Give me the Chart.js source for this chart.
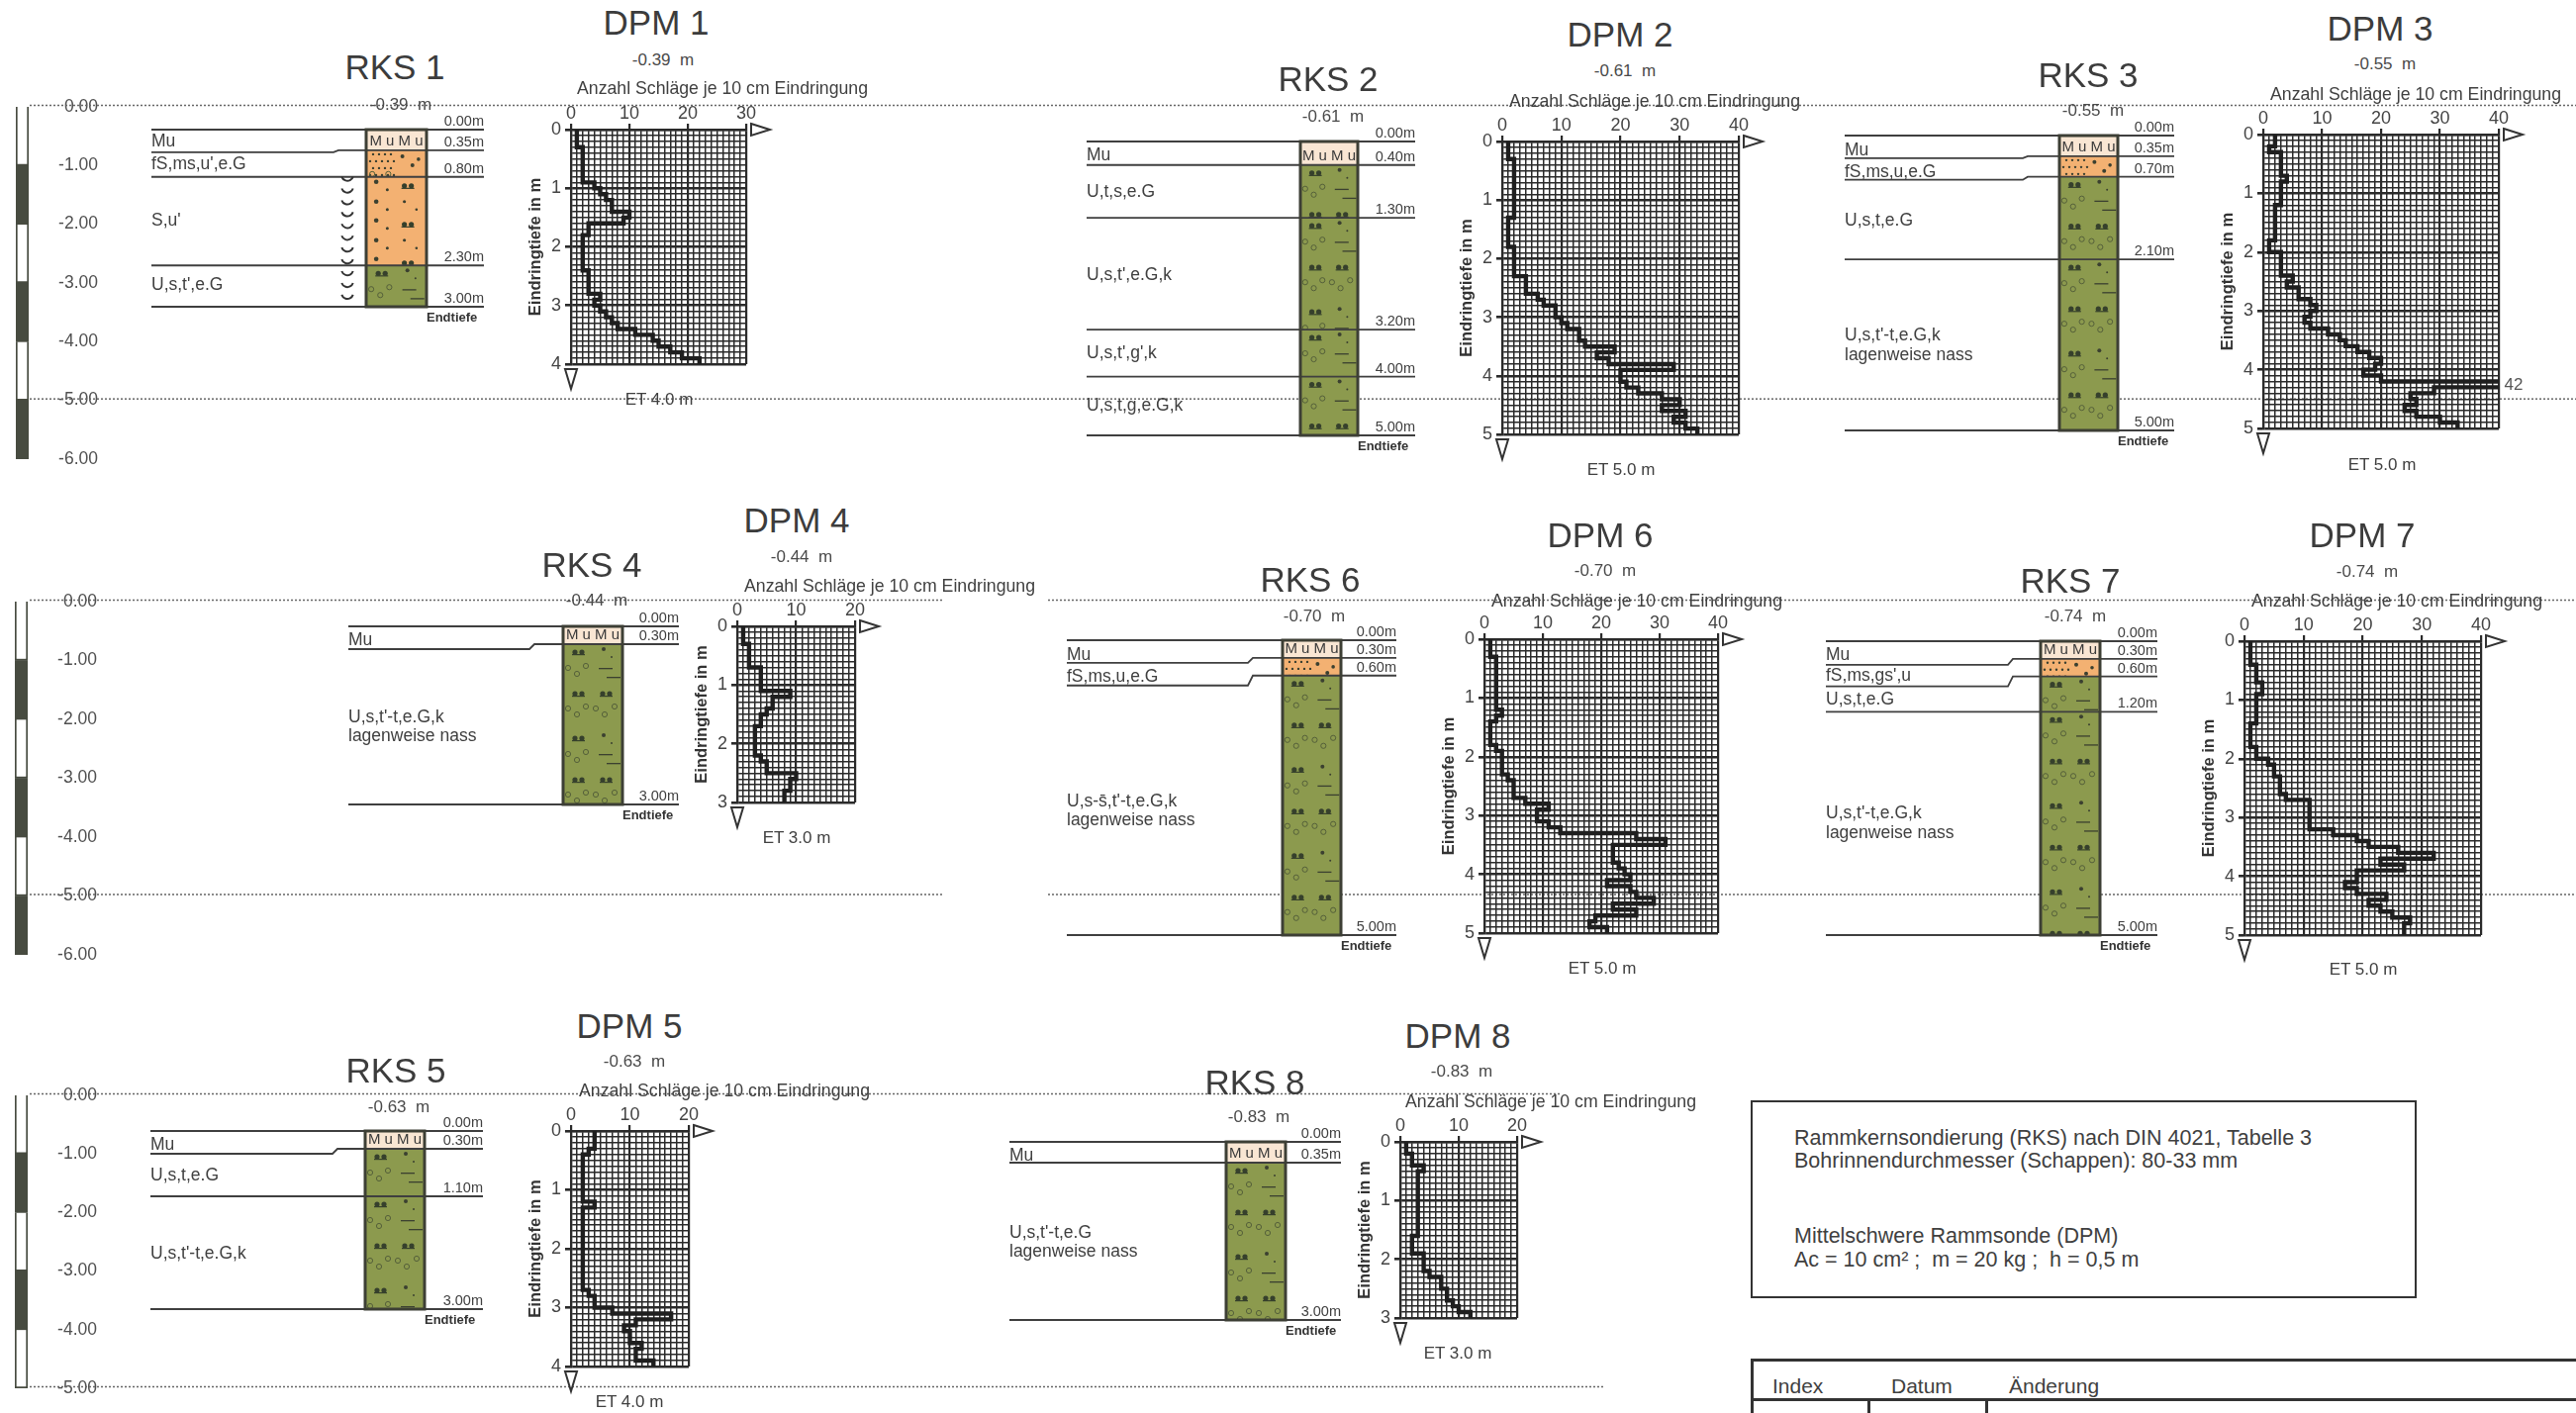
<!DOCTYPE html>
<html><head><meta charset="utf-8"><title>RKS DPM</title>
<script src="https://cdn.jsdelivr.net/npm/chart.js@4"></script>
<style>
html,body{margin:0;padding:0;background:#fff;}
#page{position:relative;width:2603px;height:1428px;overflow:hidden;background:#fff;font-family:"Liberation Sans",Arial,sans-serif;color:#444;filter:blur(0.45px);}
canvas{position:absolute;}
.t{position:absolute;transform:translate(-50%,-50%);white-space:pre;}
.l{position:absolute;transform:translateY(-50%);white-space:pre;}
.box{position:absolute;border:2.5px solid #333;box-sizing:border-box;}
.rule{position:absolute;background:#333;}
</style></head><body><div id="page"></div>
<script>
// ---------- DATA: blows per 10 cm of penetration ----------
const blowsDpm1=[1,1,1,2,2,2,2,2,2,4, 5,6,7,7,10,9,3,3,2,2, 2,2,2,2,3,3,3,3,5,4, 5,6,7,8,11,14,15,17,19,22];
const blowsDpm2=[1,1,1,2,2,2,2,2,2,2, 2,2,2,1,1,1,1,1,2,2, 2,2,2,4,4,4,6,7,9,9, 10,11,13,13,14,19,16,18,29,20, 20,21,23,27,30,27,31,29,31,33];
const blowsDpm3=[2,2,1,3,3,3,3,4,3,3, 3,3,2,2,2,2,2,2,1,1, 3,3,3,3,5,4,6,6,8,9, 8,7,8,11,13,14,16,18,20,19, 17,20,42,29,25,26,24,26,30,33];
const blowsDpm4=[1,1,1,2,2,2,2,4,4,4, 4,9,6,6,5,4,4,3,3,3, 3,3,4,5,5,10,9,9,8,8];
const blowsDpm5=[4,4,4,3,2,2,2,2,2,2, 2,2,4,2,2,2,2,2,2,2, 2,2,2,2,2,2,2,3,4,4, 7,17,11,9,10,10,12,11,11,14];
const blowsDpm6=[1,1,1,2,2,2,2,2,2,2, 2,2,3,2,1,1,1,1,2,3, 3,3,3,4,5,5,5,7,11,9, 9,11,13,26,31,22,22,22,23,24, 25,21,25,26,29,22,26,19,18,21];
const blowsDpm7=[1,1,1,1,2,2,2,3,3,2, 2,2,2,2,1,1,1,1,2,2, 4,5,5,6,6,6,7,11,11,11, 11,11,15,19,21,26,32,23,27,19, 19,17,19,24,21,23,25,28,27,27];
const blowsDpm8=[1,1,2,2,4,3,3,3,3,3, 3,3,3,3,3,3,2,2,2,4, 4,4,5,7,7,8,8,9,10,12];
// ---------- DATA: soil layers (bottom depth in m, symbol, description, row depth of description) ----------
const depthsRks1=[0.35,0.80,2.30,3.00], kindsRks1=['mu','fs','s','u'], namesRks1=['Mu',"fS,ms,u',e.G","S,u'","U,s,t',e.G"], nameDepthsRks1=[0.2,0.59,1.55,2.64];
const depthsRks2=[0.40,1.30,3.20,4.00,5.00], kindsRks2=['mu','u','u','u','u'], namesRks2=['Mu','U,t,s,e.G',"U,s,t',e.G,k","U,s,t',g',k",'U,s,t,g,e.G,k'], nameDepthsRks2=[0.24,0.86,2.27,3.6,4.5];
const depthsRks3=[0.35,0.70,2.10,5.00], kindsRks3=['mu','fs','u','u'], namesRks3=['Mu','fS,ms,u,e.G','U,s,t,e.G',"U,s,t'-t,e.G,k",'lagenweise nass'], nameDepthsRks3=[0.25,0.62,1.44,3.4,3.73];
const depthsRks4=[0.30,3.00], kindsRks4=['mu','u'], namesRks4=['Mu',"U,s,t'-t,e.G,k",'lagenweise nass'], nameDepthsRks4=[0.23,1.54,1.86];
const depthsRks5=[0.30,1.10,3.00], kindsRks5=['mu','u','u'], namesRks5=['Mu','U,s,t,e.G',"U,s,t'-t,e.G,k"], nameDepthsRks5=[0.24,0.75,2.07];
const depthsRks6=[0.30,0.60,5.00], kindsRks6=['mu','fs','u'], namesRks6=['Mu','fS,ms,u,e.G',"U,s-s\u0304,t'-t,e.G,k",'lagenweise nass'], nameDepthsRks6=[0.25,0.62,2.74,3.06];
const depthsRks7=[0.30,0.60,1.20,5.00], kindsRks7=['mu','fs','u','u'], namesRks7=['Mu',"fS,ms,gs',u",'U,s,t,e.G',"U,s,t'-t,e.G,k",'lagenweise nass'], nameDepthsRks7=[0.24,0.6,0.99,2.94,3.27];
const depthsRks8=[0.35,3.00], kindsRks8=['mu','u'], namesRks8=['Mu',"U,s,t'-t,e.G",'lagenweise nass'], nameDepthsRks8=[0.24,1.54,1.86];
const elevations={1:'-0.39  m',2:'-0.61  m',3:'-0.55  m',4:'-0.44  m',5:'-0.63  m',6:'-0.70  m',7:'-0.74  m',8:'-0.83  m'};
const scaleSegmentsRow1=[1,1,1,1,1,1], scaleSegmentsRow2=[1,1,1,1,1,1], scaleSegmentsRow3=[1,1,1,1,1];
const axisCaption='Anzahl Schläge je 10 cm Eindringung', depthCaption='Eindringtiefe in m';
const noteLines=['Rammkernsondierung (RKS) nach DIN 4021, Tabelle 3','Bohrinnendurchmesser (Schappen): 80-33 mm','Mittelschwere Rammsonde (DPM)','Ac = 10 cm² ;  m = 20 kg ;  h = 0,5 m'];
const tableHeads=['Index','Datum','Änderung'];

// ---------- LAYOUT ----------
const FONT='"Liberation Sans",Arial,sans-serif', INK='#2a2a2a', TXT='#404040';
const page=document.getElementById('page');
Chart.defaults.font.family=FONT; Chart.defaults.animation=false;

function canvasAt(l,t,w,h){const c=document.createElement('canvas');c.width=w;c.height=h;c.style.left=l+'px';c.style.top=t+'px';c.style.width=w+'px';c.style.height=h+'px';page.appendChild(c);return c;}
function label(s,x,y,size,color){const d=document.createElement('div');d.className='t';d.textContent=s;d.style.cssText+=`left:${x}px;top:${y}px;font-size:${size}px;color:${color||TXT};`;page.appendChild(d);}
function leftLabel(s,x,y,size){const d=document.createElement('div');d.className='l';d.textContent=s;d.style.cssText+=`left:${x}px;top:${y}px;font-size:${size}px;color:${TXT};`;page.appendChild(d);}

// ---- depth scale bars with the dotted level lines ----
function scaleBar(g,segments){
  const W=g.width,padV=20,axisW=70;
  const c=canvasAt(0,g.top-padV,W,g.bottom-g.top+2*padV);
  const maxD=segments.length;
  new Chart(c,{type:'bar',
    data:{labels:[''],datasets:segments.map((v,i)=>({data:[-v],stack:'s',backgroundColor:i%2?'#474b40':'#ffffff',borderColor:'#474b40',borderWidth:i%2?0:2,barPercentage:1,categoryPercentage:1}))},
    options:{responsive:false,devicePixelRatio:1,
      layout:{padding:{left:g.barL,right:W-g.barR-axisW,top:padV,bottom:padV}},
      plugins:{legend:{display:false},tooltip:{enabled:false}},
      scales:{x:{display:false,stacked:true},
        y:{position:'right',stacked:true,min:-maxD,max:0,afterFit:s=>{s.width=axisW;s.paddingTop=0;s.paddingBottom=0;},
          grid:{display:false},border:{display:false},
          ticks:{stepSize:1,autoSkip:false,padding:15,crossAlign:'far',color:'#505050',font:{size:17.5},callback:v=>v===0?'0.00':v.toFixed(2)}}}},
    plugins:[{id:'levels',beforeDatasetsDraw(ch){const x=ch.ctx,ys=ch.scales.y;x.save();x.strokeStyle='#666';x.lineWidth=1.5;x.setLineDash([2,2]);
      g.levels.forEach(([v,a,b])=>{x.beginPath();x.moveTo(a,ys.getPixelForValue(v)-1.5);x.lineTo(b,ys.getPixelForValue(v)-1.5);x.stroke();});x.restore();}}]});
}
scaleBar({top:108,bottom:464,barL:16,barR:29,width:2603,levels:[[0,30,2603],[-5,30,2603]]},scaleSegmentsRow1);
scaleBar({top:608,bottom:965,barL:15,barR:28,width:2603,levels:[[0,30,952],[-5,30,952],[0,1059,2603],[-5,1059,2603]]},scaleSegmentsRow2);
scaleBar({top:1107,bottom:1403,barL:15,barR:28,width:1640,levels:[[0,30,1577],[-5,30,1620]]},scaleSegmentsRow3);

// ---- soil columns ----
const LAYER_COLORS={mu:'#f9e6d3',fs:'#f3b172',s:'#f3b172',u:'#8c9a4e'};
function lump(x,px,py){x.fillStyle='#36402c';[0,7].forEach(o=>{x.beginPath();x.arc(px+o,py,2.6,0,7);x.fill();});x.fillRect(px-3,py+2,13,1.2);}
function ring(x,px,py){x.strokeStyle='#55603a';x.lineWidth=1;x.beginPath();x.arc(px,py,2.6,0,7);x.stroke();}
function dot(x,px,py,r){x.fillStyle='#3b4030';x.beginPath();x.arc(px,py,r,0,7);x.fill();}
function texture(x,kind,L,T,wid,H){
  x.save();x.beginPath();x.rect(L,T,wid,H);x.clip();
  const s=wid/60;
  if(kind==='mu'){x.fillStyle='#3a3a3a';x.font='15px '+FONT;x.textAlign='center';x.textBaseline='middle';x.fillText('M u M u',L+wid/2,T+H-9);}
  if(kind==='fs'){for(let r=0;r*7<H;r++){for(let i=0;i<(r%2?5:4);i++){dot(x,L+7+i*6-(r%2?3:0),T+4+r*7,1.2);}}
    for(let r=0;r*26<H;r++){dot(x,L+36*s,T+6+r*26,2);dot(x,L+46*s,T+15+r*26,2);dot(x,L+52*s,T+9+r*26,1.8);}
    for(let r=1;r*26<H;r++){ring(x,L+6*s,T+r*24);ring(x,L+22*s,T+r*24);}}
  if(kind==='s'){for(let y=T;y<T+H;y+=39){dot(x,L+10*s,y+5,2.3);dot(x,L+21*s,y+13,1.5);lump(x,L+38*s,y+9);
      dot(x,L+10*s,y+25,2.3);dot(x,L+21*s,y+33,1.5);dot(x,L+38*s,y+25,1.6);dot(x,L+50*s,y+33,1.3);}}
  if(kind==='u'){for(let y=T;y<T+H;y+=87){
      lump(x,L+12*s,y+8);dot(x,L+41*s,y+5,2);dot(x,L+49*s,y+13,1);
      ring(x,L+5*s,y+24);ring(x,L+14*s,y+30);ring(x,L+23*s,y+22);x.fillStyle='#3b4030';x.fillRect(L+36*s,y+24,14,1.3);x.fillRect(L+44*s,y+33,14,1.3);
      lump(x,L+12*s,y+50);lump(x,L+40*s,y+50);
      ring(x,L+5*s,y+65);ring(x,L+14*s,y+71);ring(x,L+23*s,y+63);ring(x,L+33*s,y+65);ring(x,L+42*s,y+71);ring(x,L+52*s,y+63);}}
  x.restore();
}
function soilColumn(g){
  const padV=30,W=g.lineR-g.lineL,H=g.bottom-g.top+2*padV,maxD=g.depths[g.depths.length-1];
  const c=canvasAt(g.lineL,g.top-padV,W,H);
  const cx=(g.colL+g.colR)/2-g.lineL,colW=g.colR-g.colL;
  const bars=g.depths.map((d,i)=>({x:cx,y:[i?g.depths[i-1]:0,d]}));
  new Chart(c,{type:'bar',
    data:{datasets:[{data:bars,backgroundColor:g.kinds.map(k=>LAYER_COLORS[k]),barThickness:colW,borderWidth:0}]},
    options:{responsive:false,devicePixelRatio:1,layout:{padding:{top:padV,bottom:padV,left:0,right:0}},
      plugins:{legend:{display:false},tooltip:{enabled:false}},
      scales:{x:{type:'linear',offset:false,min:0,max:W,display:false},y:{min:0,max:maxD,reverse:true,display:false}}},
    plugins:[{id:'soil',afterDatasetsDraw(ch){
      const x=ch.ctx,ys=ch.scales.y,xs=ch.scales.x,yp=d=>ys.getPixelForValue(d);
      const L=xs.getPixelForValue(g.colL-g.lineL),R=xs.getPixelForValue(g.colR-g.lineL);
      g.depths.forEach((d,i)=>{const a=i?g.depths[i-1]:0;texture(x,g.kinds[i],L,yp(a),R-L,yp(d)-yp(a));});
      x.save();x.strokeStyle='#3f3f3f';x.lineWidth=1.8;
      [0,...g.depths].forEach((d,i)=>{const y=yp(d),off=(g.kinks&&g.kinks[i])||0,kx=(g.kinkX||0)-g.lineL;
        x.beginPath();x.moveTo(0,y+off);if(off){x.lineTo(kx-5,y+off);x.lineTo(kx,y);}x.lineTo(W,y);x.stroke();
        x.fillStyle=TXT;x.font='14.5px '+FONT;x.textAlign='right';x.textBaseline='middle';x.fillText(d.toFixed(2)+'m',W,y-8);});
      x.strokeStyle='#3d3f35';x.lineWidth=3;x.strokeRect(L,yp(0),R-L,yp(maxD)-yp(0));
      x.fillStyle=TXT;x.textAlign='left';x.textBaseline='middle';
      x.font='17.5px '+FONT;g.names.forEach((n,i)=>x.fillText(n,0,yp(g.nameDepths[i])));
      x.fillStyle='#333';x.font='bold 13px '+FONT;x.fillText('Endtiefe',R,yp(maxD)+11);
      if(g.wet){x.strokeStyle='#333';x.lineWidth=2;for(let d=g.wet[0];d<=g.wet[1];d+=0.2){x.beginPath();x.arc(g.wetX-g.lineL,yp(d)-5,6,0.1*Math.PI,0.9*Math.PI);x.stroke();}}
      x.restore();}}]});
  label('RKS '+g.n,g.titleX,g.titleY,35,'#3c3c3c');
  label(elevations[g.n],g.levelX,g.levelY,17,'#4a4a4a');
}
soilColumn({n:1,depths:depthsRks1,kinds:kindsRks1,names:namesRks1,nameDepths:nameDepthsRks1,top:131,bottom:310,colL:370,colR:431,lineL:153,lineR:489,kinks:[0,2,0,0,0],kinkX:342,wet:[0.85,2.95],wetX:351,titleX:399,titleY:68,levelX:405,levelY:106});
soilColumn({n:2,depths:depthsRks2,kinds:kindsRks2,names:namesRks2,nameDepths:nameDepthsRks2,top:143,bottom:440,colL:1314,colR:1372,lineL:1098,lineR:1430,titleX:1342,titleY:80,levelX:1347,levelY:118});
soilColumn({n:3,depths:depthsRks3,kinds:kindsRks3,names:namesRks3,nameDepths:nameDepthsRks3,top:137,bottom:435,colL:2081,colR:2140,lineL:1864,lineR:2197,kinks:[0,2,3,0,0],kinkX:2049,titleX:2110,titleY:76,levelX:2115,levelY:112});
soilColumn({n:4,depths:depthsRks4,kinds:kindsRks4,names:namesRks4,nameDepths:nameDepthsRks4,top:633,bottom:813,colL:569,colR:629,lineL:352,lineR:686,kinks:[0,5,0],kinkX:540,titleX:598,titleY:571,levelX:603,levelY:607});
soilColumn({n:5,depths:depthsRks5,kinds:kindsRks5,names:namesRks5,nameDepths:nameDepthsRks5,top:1143,bottom:1323,colL:369,colR:429,lineL:152,lineR:488,kinks:[0,5,0,0],kinkX:341,titleX:400,titleY:1082,levelX:403,levelY:1119});
soilColumn({n:6,depths:depthsRks6,kinds:kindsRks6,names:namesRks6,nameDepths:nameDepthsRks6,top:647,bottom:945,colL:1296,colR:1355,lineL:1078,lineR:1411,kinks:[0,5,10,0],kinkX:1266,titleX:1324,titleY:586,levelX:1328,levelY:623});
soilColumn({n:7,depths:depthsRks7,kinds:kindsRks7,names:namesRks7,nameDepths:nameDepthsRks7,top:648,bottom:945,colL:2062,colR:2122,lineL:1845,lineR:2180,kinks:[0,6,10,0,0],kinkX:2034,titleX:2092,titleY:587,levelX:2097,levelY:623});
soilColumn({n:8,depths:depthsRks8,kinds:kindsRks8,names:namesRks8,nameDepths:nameDepthsRks8,top:1154,bottom:1334,colL:1239,colR:1299,lineL:1020,lineR:1355,titleX:1268,titleY:1094,levelX:1272,levelY:1129});

// ---- penetration diagrams ----
function nearInt(v){return Math.abs(v-Math.round(v))<1e-6;}
function penetration(g){
  const padL=60,padT=40,padR=50,padB=55,pw=g.x1-g.x0,ph=g.y1-g.y0;
  const c=canvasAt(g.x0-padL,g.y0-padT,pw+padL+padR,ph+padT+padB);
  const pts=[];g.blows.forEach((b,i)=>{pts.push({x:b,y:i/10},{x:b,y:(i+1)/10});});
  const maxD=g.blows.length/10;
  new Chart(c,{type:'scatter',
    data:{datasets:[{data:pts,showLine:true,borderColor:'#1f1f1f',borderWidth:4.4,pointRadius:0,tension:0,borderJoinStyle:'miter'}]},
    options:{responsive:false,devicePixelRatio:1,layout:{padding:{left:0,top:0,right:padR,bottom:padB}},
      plugins:{legend:{display:false},tooltip:{enabled:false}},
      scales:{
        x:{type:'linear',position:'top',min:0,max:g.maxX,afterFit:s=>{s.height=padT;},
          border:{color:'#2a2a2a',width:2.2},
          grid:{color:INK,lineWidth:c=>c.tick&&c.tick.value%10===0?2.2:1.5,tickLength:6,tickColor:c=>c.tick&&c.tick.value%10===0?INK:'rgba(0,0,0,0)'},
          ticks:{stepSize:1,autoSkip:false,maxRotation:0,padding:-1,color:'#444',font:{size:18},callback:v=>v%10===0?String(v):''}},
        y:{type:'linear',reverse:true,min:0,max:maxD,afterFit:s=>{s.width=padL;},
          border:{color:'#2a2a2a',width:2.2},
          title:{display:true,text:depthCaption,color:'#333',font:{size:16.5,weight:'bold'},padding:{top:15,bottom:0}},
          grid:{color:INK,lineWidth:c=>c.tick&&nearInt(c.tick.value)?2.6:1.5,tickLength:6,tickColor:c=>c.tick&&nearInt(c.tick.value)?INK:'rgba(0,0,0,0)'},
          ticks:{stepSize:0.1,autoSkip:false,padding:4,color:'#444',font:{size:18},callback:v=>nearInt(v)?String(Math.round(v)):''}}}},
    plugins:[{id:'arrows',afterDraw(ch){const x=ch.ctx,a=ch.chartArea;x.save();x.strokeStyle='#333';x.lineWidth=2;x.fillStyle='#fff';
      x.beginPath();x.moveTo(a.right+5,a.top-6);x.lineTo(a.right+24,a.top);x.lineTo(a.right+5,a.top+6);x.closePath();x.fill();x.stroke();
      x.beginPath();x.moveTo(a.left-6,a.bottom+5);x.lineTo(a.left,a.bottom+25);x.lineTo(a.left+6,a.bottom+5);x.closePath();x.fill();x.stroke();
      x.restore();}}]});
  label('DPM '+g.n,g.tx,g.ty,35,'#3c3c3c');
  label(elevations[g.n],g.lx,g.ly,17,'#4a4a4a');
  label(axisCaption,g.ax,g.ay,17.7,'#404040');
  label('ET '+maxD.toFixed(1)+' m',g.ex,g.ey,17,'#404040');
}
penetration({n:1,blows:blowsDpm1,maxX:30,x0:577,x1:754,y0:131,y1:368,tx:663,ty:23,lx:670,ly:61,ax:730,ay:89,ex:666,ey:404});
penetration({n:2,blows:blowsDpm2,maxX:40,x0:1518,x1:1757,y0:143,y1:439,tx:1637,ty:35,lx:1642,ly:72,ax:1672,ay:102,ex:1638,ey:475});
penetration({n:3,blows:blowsDpm3,maxX:40,x0:2287,x1:2525,y0:136,y1:433,tx:2405,ty:29,lx:2410,ly:65,ax:2441,ay:95,ex:2407,ey:470});
penetration({n:4,blows:blowsDpm4,maxX:20,x0:745,x1:864,y0:633,y1:811,tx:805,ty:526,lx:810,ly:563,ax:899,ay:592,ex:805,ey:847});
penetration({n:5,blows:blowsDpm5,maxX:20,x0:577,x1:696,y0:1143,y1:1381,tx:636,ty:1037,lx:641,ly:1073,ax:732,ay:1102,ex:636,ey:1417});
penetration({n:6,blows:blowsDpm6,maxX:40,x0:1500,x1:1736,y0:646,y1:943,tx:1617,ty:541,lx:1622,ly:577,ax:1654,ay:607,ex:1619,ey:979});
penetration({n:7,blows:blowsDpm7,maxX:40,x0:2268,x1:2507,y0:648,y1:945,tx:2387,ty:541,lx:2392,ly:578,ax:2422,ay:607,ex:2388,ey:980});
penetration({n:8,blows:blowsDpm8,maxX:20,x0:1415,x1:1533,y0:1154,y1:1332,tx:1473,ty:1047,lx:1477,ly:1083,ax:1567,ay:1113,ex:1473,ey:1368});
label('42',2540,389,17,'#555');

// ---- note box and revision table ----
const nb=document.createElement('div');nb.className='box';nb.style.cssText+='left:1769px;top:1112px;width:673px;height:200px;';page.appendChild(nb);
[1150,1173,1249,1273].forEach((y,i)=>leftLabel(noteLines[i],1813,y,21.5));
const tb=document.createElement('div');tb.className='box';tb.style.cssText+='left:1769px;top:1373px;width:900px;height:100px;border-width:3px;';page.appendChild(tb);
[[1769,1413,900,3],[1887,1413,3,20],[2006,1413,3,20]].forEach(([l,t,w,h])=>{const r=document.createElement('div');r.className='rule';r.style.cssText+=`left:${l}px;top:${t}px;width:${w}px;height:${h}px;`;page.appendChild(r);});
[1791,1911,2030].forEach((x,i)=>leftLabel(tableHeads[i],x,1401,21));
</script></body></html>
